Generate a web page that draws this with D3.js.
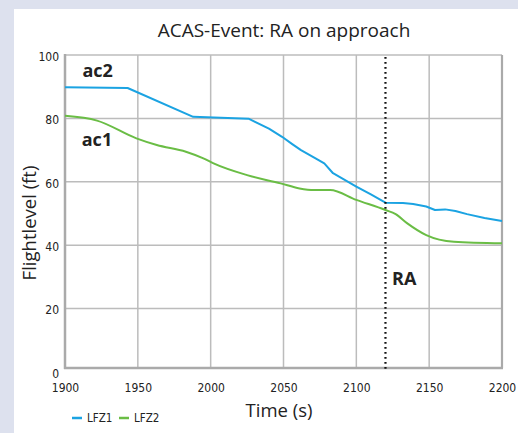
<!DOCTYPE html>
<html>
<head>
<meta charset="utf-8">
<script src="https://cdn.jsdelivr.net/npm/d3@7"></script>
<style>
  html, body { margin: 0; padding: 0; background: #dde1ee; }
  svg { display: block; }
</style>
</head>
<body>
<svg id="chart" width="518" height="433"></svg>
<script>
// ---- data ----
const title = "ACAS-Event: RA on approach";
const xTicks = [1900, 1950, 2000, 2050, 2100, 2150, 2200];
const yTicks = [0, 20, 40, 60, 80, 100];
const seriesNames = ["LFZ1", "LFZ2"];
const lfz1Time  = [1900, 1943, 1988, 2026, 2040, 2049, 2056, 2062, 2072, 2078, 2084, 2092, 2100, 2110, 2120, 2132, 2139, 2148, 2154, 2161, 2168, 2176, 2188, 2200];
const lfz1Level = [89.8, 89.6, 80.5, 79.9, 76.8, 74.2, 71.9, 70.0, 67.4, 65.8, 62.7, 60.6, 58.5, 56.0, 53.4, 53.3, 53.0, 52.2, 51.1, 51.3, 50.8, 49.8, 48.6, 47.6];
const lfz2Time  = [1900, 1922, 1949, 1963, 1983, 1995, 2002, 2025, 2048, 2061, 2071, 2082, 2100, 2120, 2127, 2135, 2148, 2167, 2200];
const lfz2Level = [80.8, 79.3, 73.7, 71.6, 69.5, 67.4, 65.8, 62.1, 59.5, 57.9, 57.4, 57.4, 54.3, 51.1, 49.8, 46.9, 43.2, 41.1, 40.6];
const raTime = 2120;
const labels = [
  { text: "ac2", t: 1912, v: 93.2 },
  { text: "ac1", t: 1911.5, v: 71.3 },
  { text: "RA",  t: 2124.5, v: 27.4 }
];

// ---- layout ----
const W = 518, H = 433;
const mLeft = 65, mRight = 502, mTop = 55, frameBottom = 368, zeroY = 372;
const colors = ["#1ba3e2", "#6abd45"];
const condensed = "'Liberation Sans Narrow','DejaVu Sans Condensed','Roboto Condensed','Arial Narrow',sans-serif";
const mainFont = "'Open Sans','Noto Sans',sans-serif";

const svg = d3.select("#chart");
svg.append("rect").attr("x", 0).attr("y", 0).attr("width", W).attr("height", H).attr("fill", "#dde1ee");
svg.append("rect").attr("x", 14).attr("y", 9).attr("width", W - 14).attr("height", H - 9).attr("fill", "#ffffff");

const x = d3.scaleLinear().domain([1900, 2200]).range([mLeft, mRight]);
const y = d3.scaleLinear().domain([0, 100]).range([zeroY, mTop]);

// gridlines
const grid = svg.append("g");
grid.selectAll("line.v").data(xTicks.slice(1, -1)).join("line")
  .attr("x1", d => x(d)).attr("x2", d => x(d))
  .attr("y1", mTop).attr("y2", frameBottom)
  .attr("stroke", "#bcbcbc").attr("stroke-width", 1.5);
grid.selectAll("line.h").data(yTicks.slice(1, -1)).join("line")
  .attr("x1", mLeft).attr("x2", mRight)
  .attr("y1", d => y(d)).attr("y2", d => y(d))
  .attr("stroke", "#bcbcbc").attr("stroke-width", 1.5);

// frame
svg.append("line").attr("x1", mLeft).attr("x2", mRight).attr("y1", mTop).attr("y2", mTop)
  .attr("stroke", "#bcbcbc").attr("stroke-width", 1.5);
svg.append("line").attr("x1", mRight).attr("x2", mRight).attr("y1", mTop).attr("y2", frameBottom)
  .attr("stroke", "#aaaaaa").attr("stroke-width", 2.2);
svg.append("line").attr("x1", mLeft).attr("x2", mLeft).attr("y1", mTop - 1).attr("y2", frameBottom + 1)
  .attr("stroke", "#aaaaaa").attr("stroke-width", 2.5);
svg.append("line").attr("x1", mLeft - 1).attr("x2", mRight + 1).attr("y1", frameBottom).attr("y2", frameBottom)
  .attr("stroke", "#aaaaaa").attr("stroke-width", 2.5);

// axes (labels only)
const xAxis = d3.axisBottom(x).tickValues(xTicks).tickFormat(d3.format("d")).tickSize(0).tickPadding(0);
const gx = svg.append("g").attr("transform", `translate(0,${frameBottom + 24})`).call(xAxis);
gx.select(".domain").remove();
gx.selectAll("text").attr("dy", 0).attr("font-family", condensed).attr("font-size", 12).attr("fill", "#222");

const yAxis = d3.axisLeft(y).tickValues(yTicks).tickSize(0).tickPadding(0);
const gy = svg.append("g").attr("transform", `translate(${mLeft - 6},0)`).call(yAxis);
gy.select(".domain").remove();
gy.selectAll("text").attr("dy", "0.35em").attr("y", 1).attr("font-family", condensed).attr("font-size", 12).attr("fill", "#222");

// lines
const lineBlue = d3.line().x(d => x(d[0])).y(d => y(d[1])).curve(d3.curveLinear);
const lineGreen = d3.line().x(d => x(d[0])).y(d => y(d[1])).curve(d3.curveMonotoneX);
const s1 = lfz1Time.map((t, i) => [t, lfz1Level[i]]);
const s2 = lfz2Time.map((t, i) => [t, lfz2Level[i]]);
svg.append("path").datum(s1).attr("d", lineBlue)
  .attr("fill", "none").attr("stroke", colors[0]).attr("stroke-width", 2)
  .attr("stroke-linejoin", "round");
svg.append("path").datum(s2).attr("d", lineGreen)
  .attr("fill", "none").attr("stroke", colors[1]).attr("stroke-width", 2)
  .attr("stroke-linejoin", "round");

// RA dotted line
svg.append("line").attr("x1", x(raTime)).attr("x2", x(raTime))
  .attr("y1", y(100) + 2).attr("y2", frameBottom + 2)
  .attr("stroke", "#111").attr("stroke-width", 2.2)
  .attr("stroke-dasharray", "1.8,3.2");

// annotations
svg.selectAll("text.lab").data(labels).join("text")
  .attr("x", d => x(d.t)).attr("y", d => y(d.v))
  .attr("font-family", mainFont).attr("font-weight", "bold").attr("font-size", 18)
  .attr("fill", "#222").text(d => d.text);

// title
svg.append("text").attr("x", 284).attr("y", 37).attr("text-anchor", "middle")
  .attr("font-family", mainFont).attr("font-size", 19).attr("fill", "#222").text(title);

// axis titles
svg.append("text").attr("x", 279).attr("y", 417).attr("text-anchor", "middle")
  .attr("font-family", mainFont).attr("font-size", 18.5).attr("fill", "#222").text("Time (s)");
svg.append("text").attr("transform", "translate(36,223) rotate(-90)")
  .attr("text-anchor", "middle")
  .attr("font-family", mainFont).attr("font-size", 18.5).attr("fill", "#222").text("Flightlevel (ft)");

// legend
const lg = svg.append("g").attr("transform", "translate(72,418)");
const items = lg.selectAll("g").data(seriesNames).join("g")
  .attr("transform", (d, i) => `translate(${i * 47},0)`);
items.append("line").attr("x1", 0).attr("x2", 10).attr("y1", 0).attr("y2", 0)
  .attr("stroke", (d, i) => colors[i]).attr("stroke-width", 2.5);
items.append("text").attr("x", 15).attr("y", 0).attr("dy", "0.35em")
  .attr("font-family", condensed).attr("font-size", 11.5).attr("fill", "#222").text(d => d);
</script>
</body>
</html>
